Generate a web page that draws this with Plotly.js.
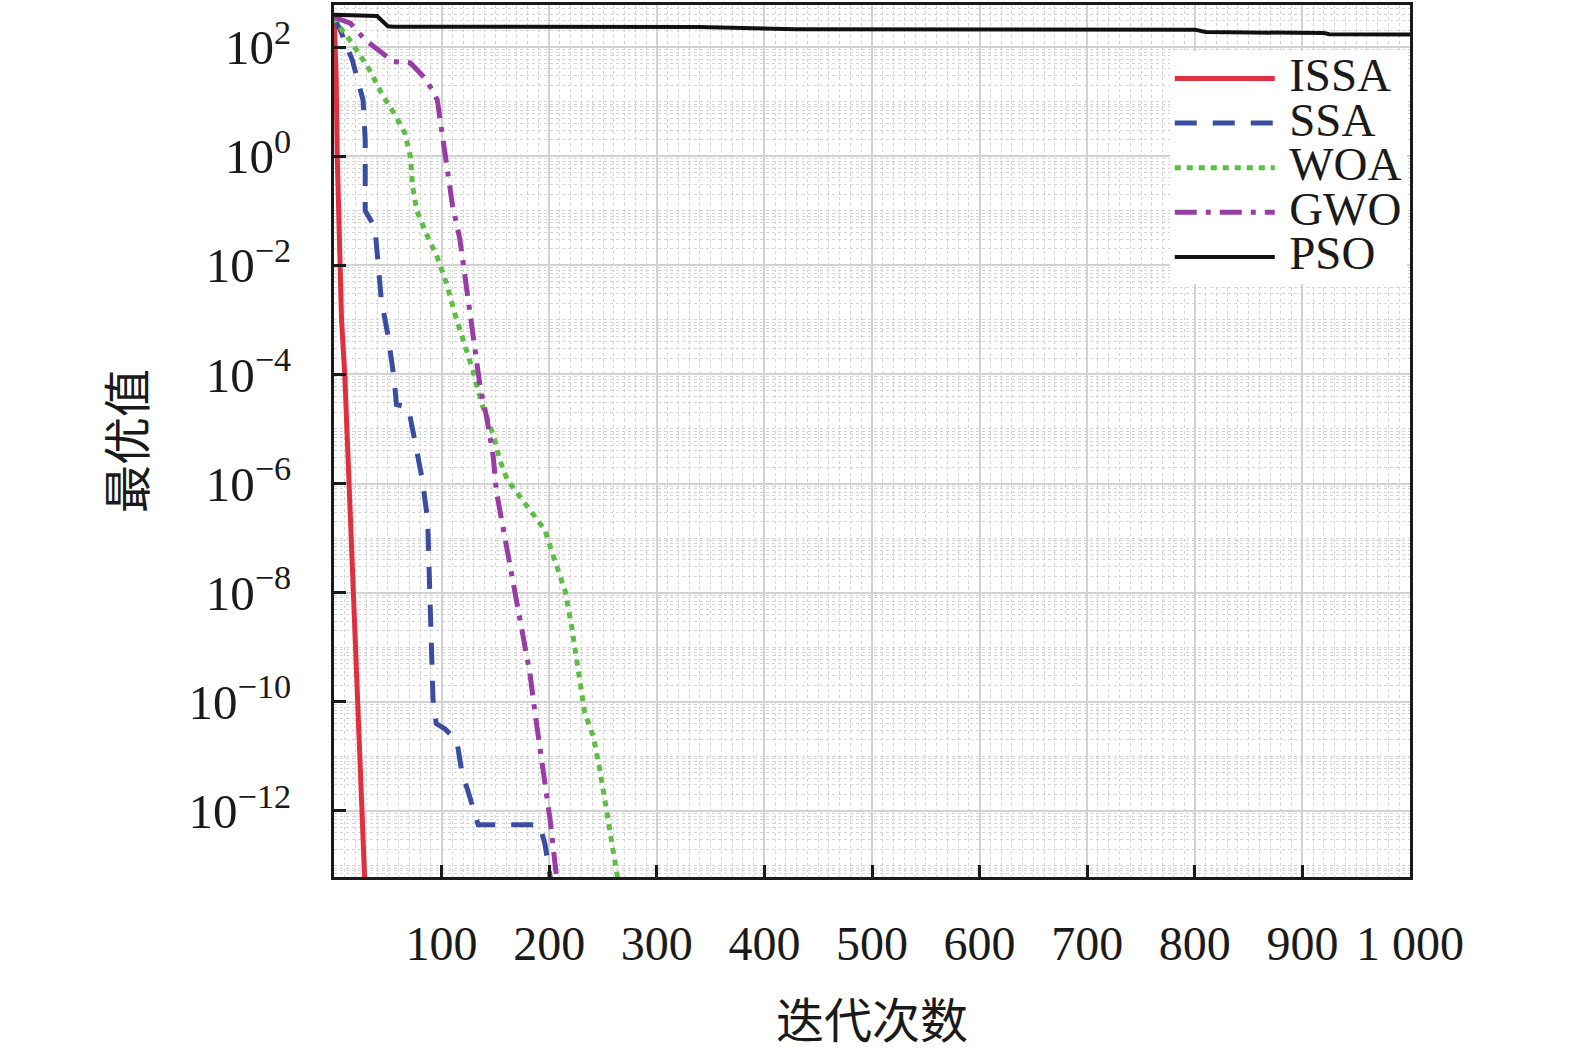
<!DOCTYPE html>
<html>
<head>
<meta charset="utf-8">
<script src="https://cdn.plot.ly/plotly-3.0.1.min.js"></script>
<style>
  html, body { margin: 0; padding: 0; background: #fff; }
  #chart { width: 1575px; height: 1053px; }
</style>
</head>
<body>
<div id="chart"></div>
<script>
// convergence curves (iteration, best value)
var issaIter = [0, 2, 3, 5, 7, 10, 14, 19, 23, 26, 30];
var issaBest = [400, 30, 1, 1e-2, 1e-3, 1e-4, 1e-6, 1e-8, 1e-10, 1e-12, 1e-14];

var ssaIter = [0, 6, 17, 27, 29, 29, 29, 38, 41, 44, 50, 56, 58, 69, 75, 82, 87, 88, 89, 90, 92, 95, 103, 114, 119, 124, 131, 134, 191, 196, 201, 204];
var ssaBest = [350, 200, 58, 10.7, 2, 0.24, 0.1, 0.05, 0.0126, 2.3e-3, 5.4e-4, 8e-5, 2.8e-5, 2.5e-5, 6.3e-6, 1.2e-6, 2.2e-7, 4e-8, 7.4e-9, 6.3e-10, 1.1e-10, 4e-11, 3.2e-11, 2e-11, 5e-12, 2.5e-12, 8.5e-13, 5.6e-13, 5.6e-13, 2.5e-13, 6e-14, 1e-14];

var woaIter = [0, 4, 17, 33, 45, 57, 66, 71, 73, 77, 85, 96, 105, 112, 120, 129, 137, 148, 154, 161, 182, 196, 205, 215, 221, 227, 233, 241, 247, 254, 261, 266];
var woaBest = [355, 250, 117, 38, 13.2, 5.6, 2.6, 0.98, 0.28, 0.1, 0.041, 0.014, 4.4e-3, 1.35e-3, 4.3e-4, 1.2e-4, 3e-5, 7.8e-6, 2.75e-6, 1.17e-6, 3.3e-7, 1.4e-7, 4e-8, 1.05e-8, 2.3e-9, 3.9e-10, 6.3e-11, 2.3e-11, 5.8e-12, 8.5e-13, 1.26e-13, 3e-14];

var gwoIter = [0, 15, 29, 43, 55, 71, 86, 96, 101, 106, 110, 117, 123, 130, 136, 142, 148, 151, 157, 165, 175, 182, 187, 194, 201, 206, 209];
var gwoBest = [355, 275, 135, 81, 54, 51, 25, 10.7, 2.1, 0.46, 0.13, 0.03, 4.4e-3, 4.3e-4, 5.6e-5, 1.6e-5, 3.1e-6, 7e-7, 1.55e-7, 2.6e-8, 2.1e-9, 3.4e-10, 5.9e-11, 6.3e-12, 6.5e-13, 8.5e-14, 3e-14];

var psoIter = [0, 20, 40, 50, 55, 340, 430, 800, 810, 920, 925, 1000];
var psoBest = [390, 380, 370, 240, 235, 233, 212, 208, 188, 180, 172, 170];

var seriesNames = ['ISSA', 'SSA', 'WOA', 'GWO', 'PSO'];

var xTickVals = [100, 200, 300, 400, 500, 600, 700, 800, 900, 1000];
var xTickText = ['100', '200', '300', '400', '500', '600', '700', '800', '900', '1 000'];
var yTickVals = [1e2, 1e0, 1e-2, 1e-4, 1e-6, 1e-8, 1e-10, 1e-12];
var yTickText = ['10<sup>2</sup>', '10<sup>0</sup>', '10<sup>\u22122</sup>', '10<sup>\u22124</sup>',
                 '10<sup>\u22126</sup>', '10<sup>\u22128</sup>', '10<sup>\u221210</sup>', '10<sup>\u221212</sup>'];

var serif = 'Liberation Serif, Times New Roman, serif';
var cjk = 'Noto Sans CJK SC, sans-serif';

// legend rows are packed tighter than the label size, so the label is enlarged in a span
function legendName(s) {
    return '<span style="font-size:47px">\u2009' + s + '</span>';
}

var traces = [
    {x: issaIter, y: issaBest, mode: 'lines', type: 'scatter', name: legendName(seriesNames[0]),
     line: {color: '#e0303f', width: 5}},
    {x: ssaIter, y: ssaBest, mode: 'lines', type: 'scatter', name: legendName(seriesNames[1]),
     line: {color: '#3a4da0', width: 5, dash: '22px,16px'}},
    {x: woaIter, y: woaBest, mode: 'lines', type: 'scatter', name: legendName(seriesNames[2]),
     line: {color: '#5dbd45', width: 5, dash: '6px,6px'}},
    {x: gwoIter, y: gwoBest, mode: 'lines', type: 'scatter', name: legendName(seriesNames[3]),
     line: {color: '#9a3ca6', width: 5, dash: '22px,9px,5px,9px'}},
    {x: psoIter, y: psoBest, mode: 'lines', type: 'scatter', name: legendName(seriesNames[4]),
     line: {color: '#111111', width: 4}}
];

var layout = {
    width: 1575,
    height: 1053,
    paper_bgcolor: '#fff',
    plot_bgcolor: '#fff',
    margin: {l: 334, r: 165, t: 5, b: 176},
    font: {family: serif, color: '#1a1a1a', size: 48},
    showlegend: true,
    legend: {
        x: 0.997, xanchor: 'right', y: 0.947, yanchor: 'top',
        bgcolor: '#fff', borderwidth: 0,
        font: {family: serif, size: 32, color: '#1a1a1a'},
        itemwidth: 100,
        tracegroupgap: 0
    },
    xaxis: {
        range: [0, 1000],
        tickmode: 'array', tickvals: xTickVals, ticktext: xTickText,
        ticks: 'inside', ticklen: 12, tickwidth: 3, tickcolor: '#1a1a1a',
        ticklabelstandoff: 22,
        tickfont: {family: serif, size: 48},
        showline: true, linecolor: '#1a1a1a', linewidth: 3, mirror: true,
        showgrid: true, gridcolor: '#d2d2d2', gridwidth: 2,
        zeroline: false,
        minor: {dtick: 10, showgrid: true, gridcolor: '#d4d4d4', gridwidth: 1.2, griddash: 'dot', ticks: ''},
        title: {text: '迭代次数', font: {family: cjk, size: 48}, standoff: 36}
    },
    yaxis: {
        type: 'log',
        range: [-13.21, 2.77],
        tickmode: 'array', tickvals: yTickVals, ticktext: yTickText,
        ticks: 'inside', ticklen: 12, tickwidth: 3, tickcolor: '#1a1a1a',
        ticklabelstandoff: 30,
        tickfont: {family: serif, size: 49},
        showline: true, linecolor: '#1a1a1a', linewidth: 3, mirror: true,
        showgrid: true, gridcolor: '#d2d2d2', gridwidth: 2,
        zeroline: false,
        minor: {dtick: 'D1', showgrid: true, gridcolor: '#d4d4d4', gridwidth: 1.2, griddash: 'dot', ticks: ''},
        title: {text: '最优值', font: {family: cjk, size: 48}, standoff: 28}
    }
};

Plotly.newPlot('chart', traces, layout, {displayModeBar: false, responsive: false});
</script>
</body>
</html>
